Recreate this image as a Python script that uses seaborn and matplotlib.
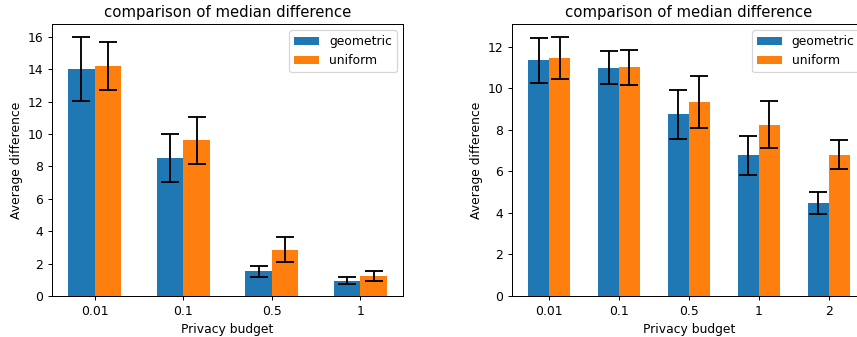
import matplotlib
matplotlib.use("Agg")
import matplotlib.pyplot as plt
import seaborn as sns
import pandas as pd
import numpy as np

# Left chart data
left_budgets = ["0.01", "0.1", "0.5", "1"]
left_geometric = [14.02, 8.53, 1.52, 0.94]
left_geometric_err = [1.95, 1.46, 0.33, 0.23]
left_uniform = [14.19, 9.62, 2.87, 1.24]
left_uniform_err = [1.47, 1.44, 0.77, 0.30]

# Right chart data
right_budgets = ["0.01", "0.1", "0.5", "1", "2"]
right_geometric = [11.36, 11.0, 8.75, 6.77, 4.48]
right_geometric_err = [1.08, 0.80, 1.17, 0.92, 0.52]
right_uniform = [11.45, 11.02, 9.34, 8.26, 6.81]
right_uniform_err = [1.02, 0.84, 1.27, 1.15, 0.70]

series = ["geometric", "uniform"]
colors = ["#1f77b4", "#ff7f0e"]

DPI = 89.4
fig = plt.figure(figsize=(857 / DPI, 337 / DPI), dpi=DPI)
ax1 = fig.add_axes([0.0607, 0.1217, 0.4096, 0.807])
ax2 = fig.add_axes([0.5974, 0.1217, 0.413, 0.807])


def draw(ax, budgets, geo, geo_err, uni, uni_err):
    df = pd.DataFrame({
        "budget": budgets * 2,
        "value": list(geo) + list(uni),
        "err": list(geo_err) + list(uni_err),
        "method": ["geometric"] * len(budgets) + ["uniform"] * len(budgets),
    })
    sns.barplot(data=df, x="budget", y="value", hue="method", hue_order=series,
                palette=colors, width=0.6, errorbar=None, ax=ax,
                saturation=1, linewidth=0)
    # error bars at the bar centres
    for container, method in zip(ax.containers, series):
        sub = df[df["method"] == method]
        xs = [p.get_x() + p.get_width() / 2 for p in container]
        ax.errorbar(xs, sub["value"].values, yerr=sub["err"].values,
                    fmt="none", ecolor="black", capsize=7, elinewidth=1.5,
                    capthick=1.5)
    n = len(budgets)
    span = (n - 1) + 0.6
    ax.set_xlim(-0.3 - 0.05 * span, n - 1 + 0.3 + 0.05 * span)
    ax.set_title("comparison of median difference")
    ax.set_xlabel("Privacy budget")
    ax.set_ylabel("Average difference")
    ax.legend(loc="upper right", title=None)


draw(ax1, left_budgets, left_geometric, left_geometric_err, left_uniform, left_uniform_err)
draw(ax2, right_budgets, right_geometric, right_geometric_err, right_uniform, right_uniform_err)
ax1.set_ylim(0, 16.8)
ax2.set_ylim(0, 13.1)

fig.savefig("out.png", dpi=DPI)
